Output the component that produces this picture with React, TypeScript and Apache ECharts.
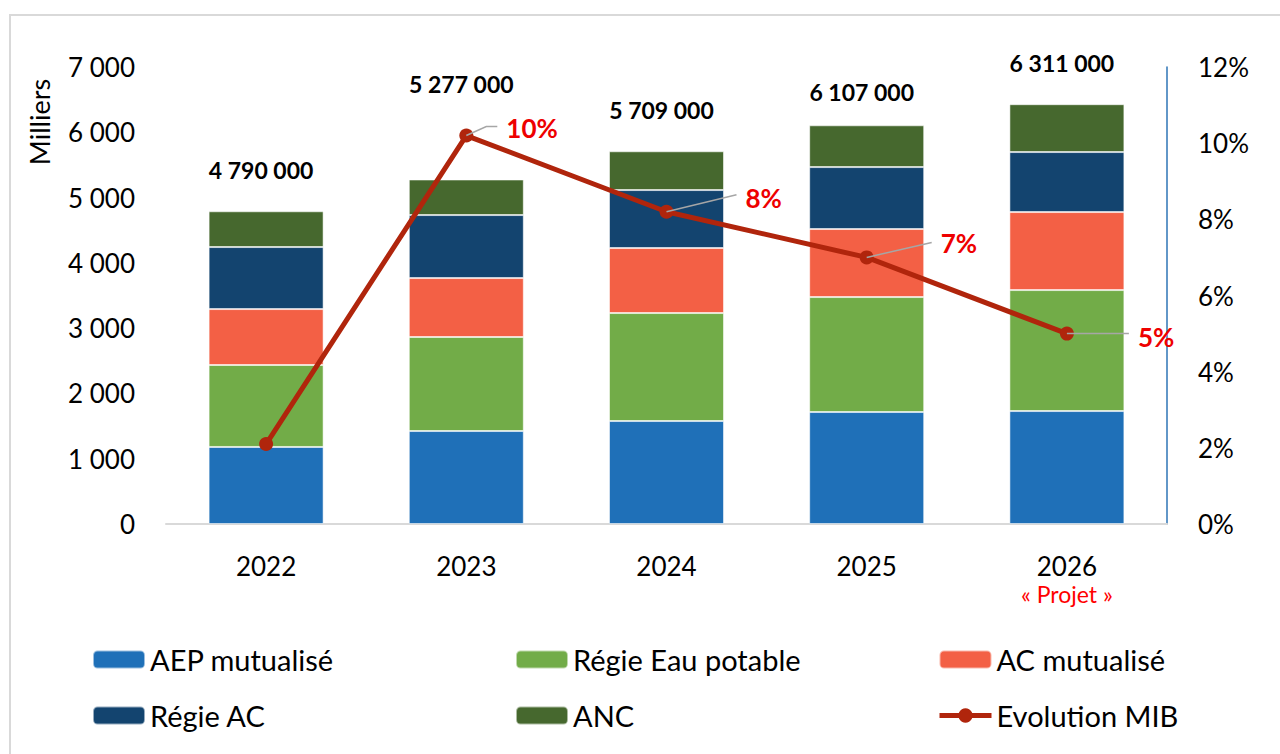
import React, { useEffect, useRef } from "react";
import * as echarts from "echarts";

const CATEGORIES = ["2022", "2023", "2024", "2025", "2026"];
const CATEGORY_NOTES = ["", "", "", "", "« Projet »"];
const AEP_MUTUALISE = [1180, 1424, 1577, 1715, 1730];
const REGIE_EAU = [1255, 1440, 1654, 1761, 1853];
const AC_MUTUALISE = [857, 903, 996, 1042, 1195];
const REGIE_AC = [950, 965, 888, 949, 919];
const ANC = [548, 545, 594, 640, 733];
const TOTAL_LABELS = ["4 790 000", "5 277 000", "5 709 000", "6 107 000", "6 311 000"];
const MIB = [2.1, 10.2, 8.2, 7.0, 5.0];
const MIB_LABELS = ["", "10%", "8%", "7%", "5%"];

// styling: offsets of labels relative to marks
const TOTAL_LABEL_OFFSETS = [[-5, -25], [-5, -79], [-5, -25], [-5, -17], [-5, -25]];
const LEADER_PATHS = [
  [],
  [[0, 0], [20, -9], [31, -9]],
  [[0, 0], [70, -17]],
  [[0, 0], [65, -15]],
  [[0, 0], [62, 0]],
];
const MIB_TEXT_OFFSETS = [[0, 0], [40, -8], [79, -14], [74, -14], [71, 3]];

const FONT = "Lato, 'Open Sans', sans-serif";
const COLORS = {
  aep: "#1f70b8",
  eau: "#72ac48",
  ac: "#f36045",
  regieAc: "#13446f",
  anc: "#46682e",
  mib: "#b0250c",
};

function fmtThousands(v: number): string {
  if (v === 0) return "0";
  const th = Math.floor(v / 1000);
  const rest = String(v % 1000).padStart(3, "0");
  return `${th} ${rest}`;
}

export default function App() {
  const ref = useRef<HTMLDivElement>(null);
  useEffect(() => {
    if (!ref.current) return;
    const chart = echarts.init(ref.current, undefined, { renderer: "svg" });
    const barBase = {
      type: "bar",
      stack: "total",
      barWidth: 115,
      yAxisIndex: 0,
      itemStyle: { borderColor: "rgba(255,255,255,0.55)", borderWidth: 1 },
    };
    const legendCommon = {
      orient: "vertical",
      padding: 0,
      itemWidth: 52,
      itemHeight: 18,
      itemGap: 27,
      top: 645,
      lineStyle: { width: 5 },
      textStyle: { fontSize: 29, fontFamily: FONT, color: "#000", lineHeight: 29 },
    };
    chart.setOption({
      animation: false,
      backgroundColor: "#ffffff",
      textStyle: { fontFamily: FONT },
      grid: { left: 166, right: 113, top: 67, bottom: 230, containLabel: false },
      legend: [
        { ...legendCommon, left: 92, data: ["AEP mutualisé", "Régie AC"] },
        { ...legendCommon, left: 515, data: ["Régie Eau potable", "ANC"] },
        { ...legendCommon, left: 937, data: ["AC mutualisé", "Evolution MIB"] },
      ],
      graphic: [
        {
          type: "rect",
          z: -10,
          shape: { x: 10, y: 15, width: 1300, height: 780 },
          style: { fill: "none", stroke: "#d9d9d9", lineWidth: 2 },
        },
        {
          type: "text",
          x: 39,
          y: 122,
          rotation: Math.PI / 2,
          style: {
            text: "Milliers",
            font: `27px ${FONT}`,
            fill: "#000",
            align: "center",
            verticalAlign: "middle",
          },
        },
      ],
      xAxis: {
        type: "category",
        data: CATEGORIES,
        axisTick: { show: false },
        axisLine: { lineStyle: { color: "#d9d9d9", width: 2 } },
        axisLabel: {
          margin: 27,
          fontSize: 26,
          color: "#000",
          fontFamily: FONT,
          lineHeight: 30,
          formatter: (v: string, i: number) =>
            CATEGORY_NOTES[i] ? `${v}\n{p|${CATEGORY_NOTES[i]}}` : v,
          rich: { p: { fontSize: 23, color: "#ff0000", fontFamily: FONT, lineHeight: 26 } },
        },
      },
      yAxis: [
        {
          type: "value",
          min: 0,
          max: 7000,
          interval: 1000,
          axisLine: { show: false },
          axisTick: { show: false },
          splitLine: { show: false },
          axisLabel: {
            margin: 31,
            fontSize: 26,
            color: "#000",
            fontFamily: FONT,
            formatter: (v: number) => fmtThousands(v),
          },
        },
        {
          type: "value",
          min: 0,
          max: 12,
          interval: 2,
          position: "right",
          axisLine: { show: true, lineStyle: { color: "#2e75b6", width: 1.5 } },
          axisTick: { show: false },
          splitLine: { show: false },
          axisLabel: {
            margin: 31,
            fontSize: 26,
            color: "#000",
            fontFamily: FONT,
            formatter: (v: number) => `${v}%`,
          },
        },
      ],
      series: [
        { ...barBase, name: "AEP mutualisé", data: AEP_MUTUALISE, itemStyle: { ...barBase.itemStyle, color: COLORS.aep } },
        { ...barBase, name: "Régie Eau potable", data: REGIE_EAU, itemStyle: { ...barBase.itemStyle, color: COLORS.eau } },
        { ...barBase, name: "AC mutualisé", data: AC_MUTUALISE, itemStyle: { ...barBase.itemStyle, color: COLORS.ac } },
        { ...barBase, name: "Régie AC", data: REGIE_AC, itemStyle: { ...barBase.itemStyle, color: COLORS.regieAc } },
        {
          ...barBase,
          name: "ANC",
          itemStyle: { ...barBase.itemStyle, color: COLORS.anc },
          data: ANC.map((v, i) => ({ value: v, label: { offset: TOTAL_LABEL_OFFSETS[i] } })),
          label: {
            show: true,
            position: "top",
            fontSize: 23,
            fontWeight: "bold",
            color: "#000",
            fontFamily: FONT,
            formatter: (p: any) => TOTAL_LABELS[p.dataIndex],
          },
        },
        {
          type: "line",
          name: "Evolution MIB",
          yAxisIndex: 1,
          data: MIB,
          z: 5,
          symbol: "circle",
          symbolSize: 14,
          itemStyle: { color: COLORS.mib },
          lineStyle: { color: COLORS.mib, width: 5 },
        },
        {
          type: "custom",
          name: "MIB labels",
          yAxisIndex: 1,
          z: 6,
          data: MIB.map((v, i) => [i, v]),
          encode: { x: 0, y: 1 },
          renderItem: (params: any, api: any) => {
            const i = params.dataIndex;
            if (!MIB_LABELS[i]) return { type: "group", children: [] };
            const p = api.coord([api.value(0), api.value(1)]);
            const pts = LEADER_PATHS[i].map(([dx, dy]) => [p[0] + dx, p[1] + dy]);
            const off = MIB_TEXT_OFFSETS[i];
            return {
              type: "group",
              children: [
                {
                  type: "polyline",
                  shape: { points: pts },
                  style: { stroke: "#a6a6a6", lineWidth: 1.5, fill: null },
                },
                {
                  type: "text",
                  x: p[0] + off[0],
                  y: p[1] + off[1],
                  style: {
                    text: MIB_LABELS[i],
                    fill: "#ee0000",
                    font: `bold 26px ${FONT}`,
                    align: "left",
                    verticalAlign: "middle",
                  },
                },
              ],
            };
          },
        },
      ],
    });
    return () => chart.dispose();
  }, []);
  return (
    <div
      ref={ref}
      style={{ position: "fixed", left: 0, top: 0, width: 1280, height: 754, background: "#fff" }}
    />
  );
}
